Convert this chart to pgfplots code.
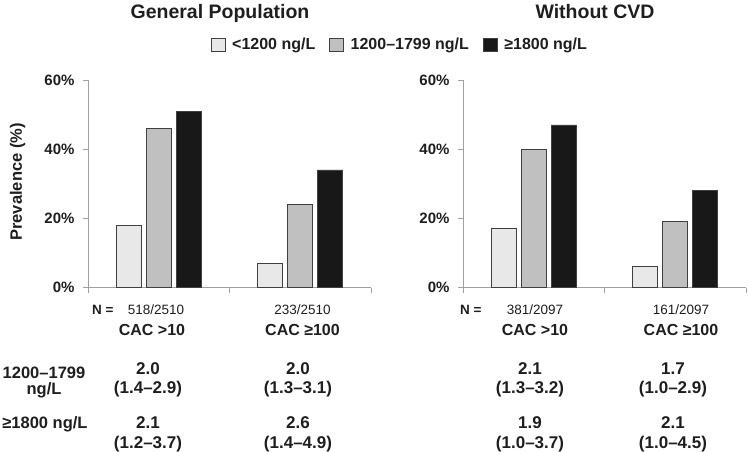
\documentclass[border=0pt]{standalone}
\usepackage{pgfplots}
\pgfplotsset{compat=1.18}
\usepackage{fontspec}
\setmainfont{Liberation Sans}

\definecolor{barA}{HTML}{E8E8E8}
\definecolor{barB}{HTML}{C0C0C0}
\definecolor{barC}{HTML}{181818}
\definecolor{axgray}{HTML}{A0A0A0}
\definecolor{txt}{HTML}{1E1E1E}

\pgfplotsset{
  prevstyle/.style={
    scale only axis, width=283pt, height=207.5pt,
    xmin=0, xmax=2, ymin=0, ymax=60,
    ybar=5pt, bar width=25pt,
    axis x line*=bottom, axis y line*=left,
    axis line style={axgray, line width=0.8pt, -},
    xtick={0,1,2}, xticklabels={},
    ytick={0,20,40,60}, yticklabels={0\%,20\%,40\%,60\%},
    tick align=outside, major tick length=5pt,
    tick style={axgray, line width=0.8pt},
    yticklabel style={font=\fontsize{15}{18}\selectfont\bfseries, text=txt, xshift=-5pt},
    clip=false,
    legend image code/.code={\draw[#1,/tikz/.cd] (0pt,-6.5pt) rectangle (14pt,6.5pt);
      \path[draw=none, fill=none] (0pt,0pt) -- (19pt,0pt);},
  },
}

\begin{document}
\begin{tikzpicture}[x=1pt,y=1pt]
\path[use as bounding box] (0,0) rectangle (750,-452);

% Left panel
\begin{axis}[prevstyle, at={(88pt,-287.5pt)}, anchor=south west,
  legend style={at={(rel axis cs:1.102,1.169)}, anchor=center, legend columns=3,
    draw=none, fill=none, font=\fontsize{16}{19}\selectfont\bfseries, text=txt,
    /tikz/every even column/.append style={column sep=12pt}}]
\addplot[fill=barA, draw=black!75, line width=0.7pt] coordinates {(0.5,18) (1.5,7)};
\addplot[fill=barB, draw=black!75, line width=0.7pt] coordinates {(0.5,46) (1.5,24)};
\addplot[fill=barC, draw=black!75, line width=0.7pt] coordinates {(0.5,51) (1.5,34)};
\legend{<1200 ng/L, 1200–1799 ng/L, ≥1800 ng/L}
\end{axis}

% Right panel
\begin{axis}[prevstyle, at={(463pt,-287.5pt)}, anchor=south west]
\addplot[fill=barA, draw=black!75, line width=0.7pt] coordinates {(0.5,17) (1.5,6)};
\addplot[fill=barB, draw=black!75, line width=0.7pt] coordinates {(0.5,40) (1.5,19)};
\addplot[fill=barC, draw=black!75, line width=0.7pt] coordinates {(0.5,47) (1.5,28)};
\end{axis}

% Titles
\node[anchor=base, font=\fontsize{19.5}{23}\selectfont\bfseries, text=txt] at (220,-18.5) {General Population};
\node[anchor=base, font=\fontsize{19.5}{23}\selectfont\bfseries, text=txt] at (595,-18.5) {Without CVD};

% y label
\node[rotate=90, font=\fontsize{16.5}{19}\selectfont\bfseries, text=txt] at (17.5,-182) {Prevalence (\%)};

% N rows
\begin{scope}[every node/.style={anchor=base, text=txt, inner sep=0pt}]
\node[anchor=base west, font=\fontsize{13.5}{16}\selectfont\bfseries] at (92,-314) {N =};
\node[font=\fontsize{13.5}{16}\selectfont] at (156,-314) {518/2510};
\node[font=\fontsize{13.5}{16}\selectfont] at (302.5,-314) {233/2510};
\node[anchor=base west, font=\fontsize{13.5}{16}\selectfont\bfseries] at (460,-314) {N =};
\node[font=\fontsize{13.5}{16}\selectfont] at (535,-314) {381/2097};
\node[font=\fontsize{13.5}{16}\selectfont] at (681,-314) {161/2097};

\node[font=\fontsize{16}{19}\selectfont\bfseries] at (152,-335) {CAC >10};
\node[font=\fontsize{16}{19}\selectfont\bfseries] at (302.5,-335) {CAC ≥100};
\node[font=\fontsize{16}{19}\selectfont\bfseries] at (535,-335) {CAC >10};
\node[font=\fontsize{16}{19}\selectfont\bfseries] at (681,-335) {CAC ≥100};

% Row labels
\node[font=\fontsize{16.5}{19}\selectfont\bfseries] at (44,-378.5) {1200–1799};
\node[font=\fontsize{16.5}{19}\selectfont\bfseries] at (44,-394) {ng/L};
\node[font=\fontsize{16.5}{19}\selectfont\bfseries] at (45,-428.5) {≥1800 ng/L};

% Odds ratios
\node[font=\fontsize{17}{20}\selectfont\bfseries] at (148,-374) {2.0};
\node[font=\fontsize{17}{20}\selectfont\bfseries] at (148,-393.5) {(1.4–2.9)};
\node[font=\fontsize{17}{20}\selectfont\bfseries] at (148,-428.5) {2.1};
\node[font=\fontsize{17}{20}\selectfont\bfseries] at (148,-448.5) {(1.2–3.7)};

\node[font=\fontsize{17}{20}\selectfont\bfseries] at (298,-374) {2.0};
\node[font=\fontsize{17}{20}\selectfont\bfseries] at (298,-393.5) {(1.3–3.1)};
\node[font=\fontsize{17}{20}\selectfont\bfseries] at (298,-428.5) {2.6};
\node[font=\fontsize{17}{20}\selectfont\bfseries] at (298,-448.5) {(1.4–4.9)};

\node[font=\fontsize{17}{20}\selectfont\bfseries] at (530,-374) {2.1};
\node[font=\fontsize{17}{20}\selectfont\bfseries] at (530,-393.5) {(1.3–3.2)};
\node[font=\fontsize{17}{20}\selectfont\bfseries] at (530,-428.5) {1.9};
\node[font=\fontsize{17}{20}\selectfont\bfseries] at (530,-448.5) {(1.0–3.7)};

\node[font=\fontsize{17}{20}\selectfont\bfseries] at (673,-374) {1.7};
\node[font=\fontsize{17}{20}\selectfont\bfseries] at (673,-393.5) {(1.0–2.9)};
\node[font=\fontsize{17}{20}\selectfont\bfseries] at (673,-428.5) {2.1};
\node[font=\fontsize{17}{20}\selectfont\bfseries] at (673,-448.5) {(1.0–4.5)};
\end{scope}
\end{tikzpicture}
\end{document}
